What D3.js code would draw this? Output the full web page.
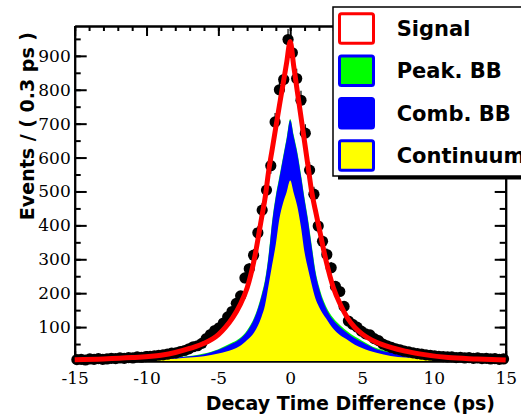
<!DOCTYPE html>
<html><head><meta charset="utf-8">
<script src="https://cdn.jsdelivr.net/npm/d3@7/dist/d3.min.js"></script>
<style>body{margin:0;background:#fff}svg{display:block}</style>
</head><body>
<svg id="c" width="521" height="415"></svg>
<script>
// ---------- data ----------
const binLow = -15, binWidth = 0.3;
const counts = [
  4,5,3,6,5,7,5,6,8,7,
  9,8,10,9,12,11,13,14,15,17,
  18,20,23,24,28,31,36,42,45,52,
  66,78,90,98,112,130,146,170,192,245,
  272,312,378,445,504,576,705,800,830,948,
  909,833,769,672,563,492,398,353,314,275,
  220,205,161,118,108,100,88,80,77,66,
  60,50,45,40,36,33,29,27,24,22,
  20,18,17,15,14,13,12,12,10,11,
  9,10,8,9,7,8,6,7,5,6
];
const curveX = [-15,-13,-11,-9,-8,-7,-6,-5,-4.5,-4,-3.5,-3,-2.5,-2,-1.75,-1.5,-1.25,-1,-0.75,-0.5,-0.25,0,0.25,0.5,0.75,1,1.25,1.5,1.75,2,2.5,3,3.5,4,4.5,5,6,7,8,9,11,13,15];
const continuum = [1,2,3,5,7,10,14,22,27,34,44,62,85,130,165,225,285,345,420,465,498,532,495,455,395,320,270,225,185,160,125,95,75,62,48,38,24,15,10,7,4,2,1];
const combBB    = [1,1,2,3,3,4,6,11,15,18,21,25,40,60,70,85,125,139,120,132,155,178,165,155,150,155,140,110,77,55,30,26,24,20,19,18,11,10,7,5,2,2,1];
const peakBB    = [0,0,1,1,1,1,2,2,3,3,3,4,4,5,5,5,5,5,5,5,5,4,5,5,5,5,6,6,6,6,6,6,6,5,5,4,3,2,2,1,1,0,0];
const fitTotal  = [4,6,10,17,25,37,52,78,100,128,165,215,300,420,480,560,625,690,754,816,879,942,868,794,720,646,572,498,445,395,295,217,166,126,99,80,55,40,29,21,10,6,3];
const xTicks = [-15,-10,-5,0,5,10,15];
const yTicks = [100,200,300,400,500,600,700,800,900];
const legendLabels = ["Signal","Peak. BB","Comb. BB","Continuum"];

// ---------- chart ----------
const svg = d3.select("#c");
svg.append("rect").attr("width",521).attr("height",415).attr("fill","#fff");
const x = d3.scaleLinear().domain([-15,15]).range([74.7,505.7]);
const y = d3.scaleLinear().domain([0,988]).range([361,26]);

const axStyle = g => { g.selectAll("path.domain").attr("stroke","#000").attr("stroke-width",2);
  g.selectAll(".tick line").attr("stroke","#000").attr("stroke-width",2); };
const plain = d => String(d);

// minor ticks
const xMinor = d3.range(-15,16,1), yMinor = d3.range(50,1000,50);
svg.append("g").attr("transform","translate(0,26)")
  .call(d3.axisTop(x).tickValues(xMinor).tickSize(-5).tickSizeOuter(0).tickFormat("")).call(axStyle);
svg.append("g").attr("transform","translate(0,26)")
  .call(d3.axisTop(x).tickValues(xTicks).tickSize(-10).tickSizeOuter(0).tickFormat("")).call(axStyle);
svg.append("g").attr("transform","translate(0,361)")
  .call(d3.axisBottom(x).tickValues(xMinor).tickSize(-5).tickSizeOuter(0).tickFormat("")).call(axStyle);
const gxb = svg.append("g").attr("transform","translate(0,361)")
  .call(d3.axisBottom(x).tickValues(xTicks).tickSize(-10).tickSizeOuter(0).tickPadding(11).tickFormat(plain)).call(axStyle);
svg.append("g").attr("transform","translate(74.7,0)")
  .call(d3.axisLeft(y).tickValues(yMinor).tickSize(-6).tickSizeOuter(0).tickFormat("")).call(axStyle);
const gyl = svg.append("g").attr("transform","translate(74.7,0)")
  .call(d3.axisLeft(y).tickValues(yTicks).tickSize(-12).tickSizeOuter(0).tickPadding(4).tickFormat(plain)).call(axStyle);
svg.append("g").attr("transform","translate(505.7,0)")
  .call(d3.axisRight(y).tickValues(yMinor).tickSize(-6).tickSizeOuter(0).tickFormat("")).call(axStyle);
svg.append("g").attr("transform","translate(505.7,0)")
  .call(d3.axisRight(y).tickValues(yTicks).tickSize(-11).tickSizeOuter(0).tickFormat("")).call(axStyle);
[gxb, gyl].forEach(g => g.selectAll("text").attr("font-family","'DejaVu Serif'").attr("font-size",17).attr("fill","#000"));

// stacked background
const rows = curveX.map((v,i)=>({x:v, continuum:continuum[i], comb:combBB[i], peak:peakBB[i]}));
const stacked = d3.stack().keys(["continuum","comb","peak"])(rows);
const fillCol = {continuum:"#ffff00", comb:"#0000ff", peak:"#00ff00"};
const area = d3.area().x(d=>x(d.data.x)).y0(y(0)).y1(d=>y(d[1])).curve(d3.curveMonotoneX);
stacked.slice().reverse().forEach(s => {
  svg.append("path").datum(s).attr("d",area).attr("fill",fillCol[s.key]).attr("stroke","none");
});

// data points
const pts = counts.map((c,i)=>({x: binLow + binWidth*(i+0.5), c}));
const gp = svg.append("g");
gp.selectAll("line.ey").data(pts).join("line").attr("class","ey")
  .attr("x1",d=>x(d.x)).attr("x2",d=>x(d.x))
  .attr("y1",d=>y(d.c+Math.sqrt(d.c))).attr("y2",d=>y(Math.max(0,d.c-Math.sqrt(d.c))))
  .attr("stroke","#000").attr("stroke-width",1.2);
gp.selectAll("line.ex").data(pts).join("line").attr("class","ex")
  .attr("x1",d=>x(d.x-binWidth/2)).attr("x2",d=>x(d.x+binWidth/2))
  .attr("y1",d=>y(d.c)).attr("y2",d=>y(d.c)).attr("stroke","#000").attr("stroke-width",1.2);
gp.selectAll("circle").data(pts).join("circle")
  .attr("cx",d=>x(d.x)).attr("cy",d=>y(d.c)).attr("r",5.6).attr("fill","#000");

// total fit line
const line = d3.line().x((d,i)=>x(curveX[i])).y(d=>y(d)).curve(d3.curveMonotoneX);
svg.append("path").datum(fitTotal).attr("d",line).attr("fill","none")
  .attr("stroke","#ff0000").attr("stroke-width",5).attr("stroke-linejoin","round");

// axis titles
svg.append("text").attr("x",495).attr("y",410).attr("text-anchor","end")
  .attr("font-family","'DejaVu Sans'").attr("font-weight","bold").attr("font-size",19)
  .text("Decay Time Difference (ps)");
svg.append("text").attr("transform","translate(33.5,32) rotate(-90)").attr("text-anchor","end")
  .attr("font-family","'DejaVu Sans'").attr("font-weight","bold").attr("font-size",19)
  .text("Events / ( 0.3 ps )");

// legend
const lg = svg.append("g");
lg.append("rect").attr("x",338).attr("y",176).attr("width",200).attr("height",3.5).attr("fill","#000");
lg.append("rect").attr("x",333).attr("y",7).attr("width",200).attr("height",169)
  .attr("fill","#fff").attr("stroke","#000").attr("stroke-width",1.5);
const legFill = ["#ffffff","#00ff00","#0000ff","#ffff00"];
const legStroke = ["#ff0000","#0000ff","#0000ff","#0000ff"];
legendLabels.forEach((t,i)=>{
  const top = 12.3 + i*42.3;
  lg.append("rect").attr("x",339.5).attr("y",top+1.5).attr("width",34).attr("height",29.5)
    .attr("rx",2).attr("fill",legFill[i]).attr("stroke",legStroke[i]).attr("stroke-width",3);
  lg.append("text").attr("x",396.7).attr("y",36+i*42.4)
    .attr("font-family","'DejaVu Sans'").attr("font-weight","bold").attr("font-size",21)
    .attr("fill","#000").text(t);
});
</script>
</body></html>
